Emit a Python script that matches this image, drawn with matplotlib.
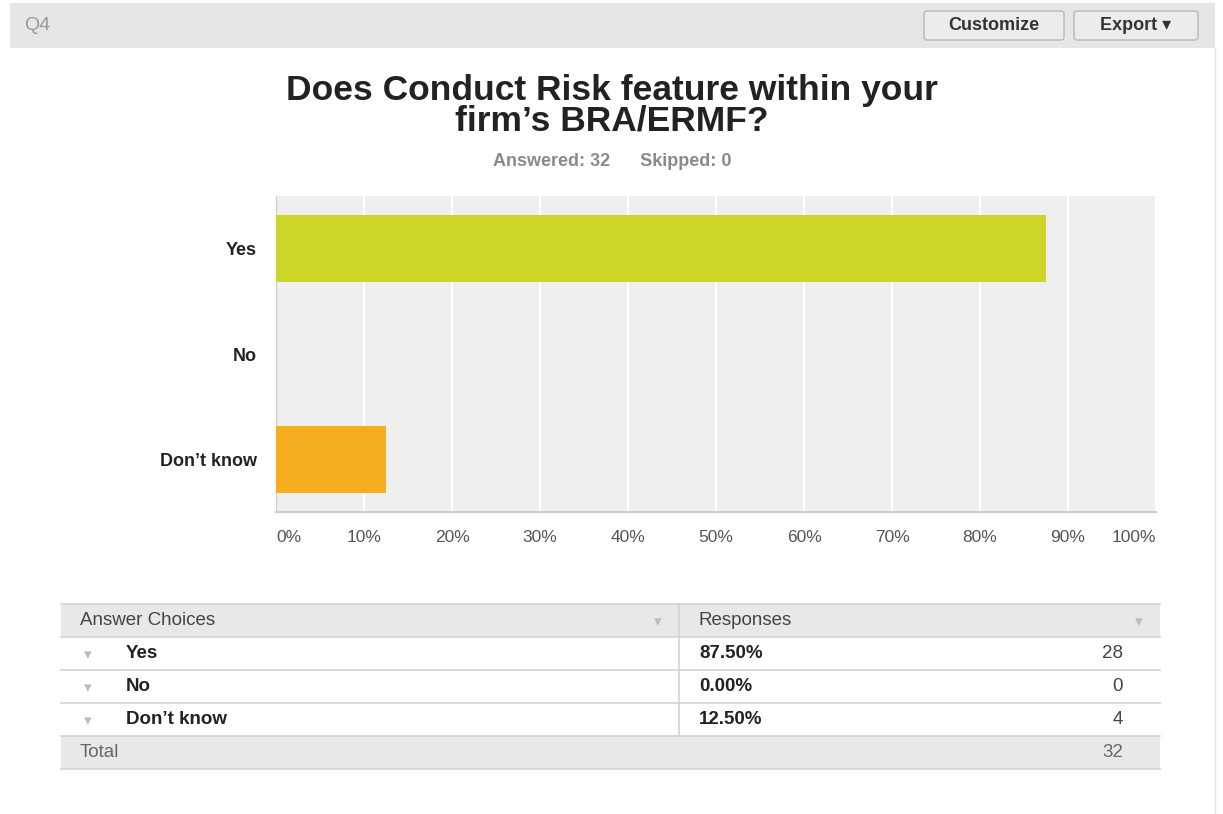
import matplotlib
matplotlib.use("Agg")
import matplotlib.pyplot as plt
from matplotlib.patches import Rectangle, FancyBboxPatch

plt.rcParams['font.family'] = ['Liberation Sans', 'DejaVu Sans']

# ---- data ----
categories = ["Yes", "No", "Don\u2019t know"]
percents = [87.5, 0.0, 12.5]
counts = [28, 0, 4]
total = 32
answered = 32
skipped = 0
xticks = [0, 10, 20, 30, 40, 50, 60, 70, 80, 90, 100]
xtick_labels = ["0%", "10%", "20%", "30%", "40%", "50%", "60%", "70%", "80%", "90%", "100%"]
bar_colors = ["#cdd528", "#8dc63f", "#f6ae1f"]
title = "Does Conduct Risk feature within your\nfirm\u2019s BRA/ERMF?"
question_id = "Q4"

W, H = 1223, 814
fig = plt.figure(figsize=(W / 100, H / 100), dpi=100)
fig.patch.set_facecolor("white")

# overlay in pixel coords
ov = fig.add_axes([0, 0, 1, 1], zorder=0)
ov.set_xlim(0, W)
ov.set_ylim(H, 0)
ov.axis("off")

# header band
ov.add_patch(Rectangle((10, 3), 1205, 45, facecolor="#e6e6e4", edgecolor="none"))
ov.plot([1215, 1215], [48, 814], color="#e2e2e2", lw=1)
ov.text(24, 25, question_id, fontsize=14, color="#9a9a9a", va="center", ha="left")
for (x0, x1, lab) in [(924, 1064, "Customize"), (1074, 1198, "Export \u25be")]:
    ov.add_patch(FancyBboxPatch((x0, 11), x1 - x0, 29, boxstyle="round,pad=0,rounding_size=3",
                                facecolor="#ececea", edgecolor="#b8b8b6", lw=1))
    ov.text((x0 + x1) / 2, 26, lab, fontsize=13, color="#333333", va="center", ha="center",
            family=['Liberation Sans', 'DejaVu Sans'], fontweight="bold")

# title
ov.text(612, 106, title, fontsize=25.5, fontweight="bold", color="#222222",
        ha="center", va="center", linespacing=0.92)
ov.text(612, 161, f"Answered: {answered}      Skipped: {skipped}", fontsize=13,
        fontweight="bold", color="#8a8a8a", ha="center", va="center")

# ---- table ----
tx0, tx1, tdiv = 61, 1160, 679
row_h = 33
ty0 = 604
fs_t = 13.5
ov.add_patch(Rectangle((tx0, ty0), tx1 - tx0, row_h, facecolor="#e8e8e8", edgecolor="none"))
ov.add_patch(Rectangle((tx0, ty0 + 4 * row_h), tx1 - tx0, row_h, facecolor="#e8e8e8", edgecolor="none"))
for i in range(6):
    ov.plot([tx0, tx1], [ty0 + i * row_h, ty0 + i * row_h], color="#d3d3d3", lw=1.2)
ov.plot([tdiv, tdiv], [ty0, ty0 + 4 * row_h], color="#d3d3d3", lw=1.2)
hy = ty0 + row_h / 2
ov.text(80, hy, "Answer Choices", fontsize=fs_t, color="#444444", va="center")
ov.text(699, hy, "Responses", fontsize=fs_t, color="#444444", va="center")
ov.text(658, hy + 1, "\u25be", fontsize=11, color="#bbbbbb", va="center", ha="center",
        family="DejaVu Sans")
ov.text(1139, hy + 1, "\u25be", fontsize=11, color="#bbbbbb", va="center", ha="center",
        family="DejaVu Sans")
for i, (cat, p, c) in enumerate(zip(categories, percents, counts)):
    y = ty0 + (i + 1) * row_h + row_h / 2
    ov.text(88, y + 1, "\u25be", fontsize=11, color="#bbbbbb", va="center", ha="center",
            family="DejaVu Sans")
    ov.text(126, y, cat, fontsize=fs_t, fontweight="bold", color="#222222", va="center")
    ov.text(699, y, f"{p:.2f}%", fontsize=fs_t, fontweight="bold", color="#222222", va="center")
    ov.text(1123, y, str(c), fontsize=fs_t, color="#444444", va="center", ha="right")
ty = ty0 + 4 * row_h + row_h / 2
ov.text(80, ty, "Total", fontsize=fs_t, color="#666666", va="center")
ov.text(1123, ty, str(total), fontsize=fs_t, color="#666666", va="center", ha="right")

# ---- bar chart ----
left, right, top, bottom = 276, 1156, 196, 512
ax = fig.add_axes([left / W, 1 - bottom / H, (right - left) / W, (bottom - top) / H], zorder=1)
ax.set_facecolor("#efefef")
ypos = list(range(len(categories)))
ax.barh(ypos, percents, height=0.63, color=bar_colors, zorder=3)
ax.set_xlim(0, 100)
ax.set_ylim(len(categories) - 0.5, -0.5)
ax.set_xticks(xticks)
ax.set_xticklabels(xtick_labels)
ax.set_yticks(ypos)
ax.set_yticklabels(categories)
ax.grid(axis="x", color="white", lw=1.5, zorder=1)
ax.tick_params(axis="both", length=0)
ax.tick_params(axis="x", pad=13, labelsize=12.5, labelcolor="#555555")
ax.tick_params(axis="y", pad=14, labelsize=13, labelcolor="#222222")
xl = ax.get_xticklabels()
xl[0].set_horizontalalignment("left")
xl[-1].set_horizontalalignment("right")
for lab in ax.get_yticklabels():
    lab.set_fontweight("bold")
for s in ["top", "right"]:
    ax.spines[s].set_visible(False)
ax.spines["left"].set_color("#cccccc")
ax.spines["bottom"].set_color("#cccccc")
ax.spines["bottom"].set_linewidth(1.5)

fig.savefig("out.png", dpi=100)
